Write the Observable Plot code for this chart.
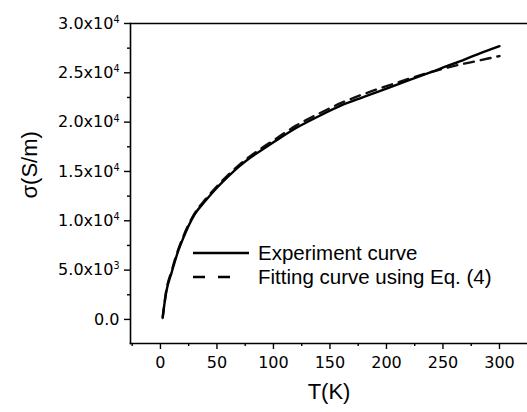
<!DOCTYPE html>
<html><head><meta charset="utf-8">
<script src="https://cdn.jsdelivr.net/npm/d3@7"></script>
<script src="https://cdn.jsdelivr.net/npm/@observablehq/plot@0.6"></script>
<style>
body{margin:0;background:#fff;}
#wrap{position:relative;width:527px;height:412px;font-family:"Liberation Sans",Arial,sans-serif;}
#legend{position:absolute;left:0;top:0;pointer-events:none;}
</style></head><body><div id="wrap"></div>
<script>
// Experimental curve
const tExp = [2, 5, 10, 15, 20, 30, 40, 50, 60, 70, 80, 90, 100, 120, 140, 160, 180, 200, 220, 240, 260, 280, 300];
const sigmaExp = [250, 2700, 4800, 6700, 8200, 10600, 12050, 13350, 14500, 15550, 16450, 17200, 17950, 19400, 20600, 21700, 22550, 23400, 24250, 25100, 25950, 26850, 27700];
// Fitting curve using Eq. (4)
const tFit = [2, 5, 10, 15, 20, 30, 40, 50, 60, 70, 80, 90, 100, 120, 140, 160, 180, 200, 220, 240, 260, 280, 300];
const sigmaFit = [150, 2800, 4950, 6850, 8350, 10700, 12200, 13500, 14650, 15700, 16600, 17400, 18150, 19650, 20850, 21950, 22850, 23650, 24400, 25100, 25700, 26200, 26700];

const xTicks = [0, 50, 100, 150, 200, 250, 300];
const xMinorTicks = [-25, 25, 75, 125, 175, 225, 275, 325];
const yTicks = [0, 5000, 10000, 15000, 20000, 25000, 30000];
const yTickLabels = ["0.0", "5.0x10^3", "1.0x10^4", "1.5x10^4", "2.0x10^4", "2.5x10^4", "3.0x10^4"];
const yMinorTicks = [2500, 7500, 12500, 17500, 22500, 27500];
const seriesLabels = ["Experiment curve", "Fitting curve using Eq. (4)"];
const xLabel = "T(K)";
const yLabel = "σ(S/m)";

const exp = tExp.map((t, i) => ({t, s: sigmaExp[i]}));
const fit = tFit.map((t, i) => ({t, s: sigmaFit[i]}));

const font = "Liberation Sans, Arial, Helvetica, sans-serif";
const tickFont = "DejaVu Sans, Liberation Sans, sans-serif";

const chart = Plot.plot({
  width: 527, height: 412,
  marginLeft: 130, marginRight: 0, marginTop: 23, marginBottom: 69,
  x: {domain: [-26.5, 324.8]},
  y: {domain: [-2440, 30000]},
  style: {fontFamily: font, fontSize: "16px", color: "#000", background: "#fff"},
  marks: [
    Plot.frame({anchor: "left", stroke: "#000", strokeWidth: 1.6}),
    Plot.frame({anchor: "top", stroke: "#000", strokeWidth: 1.6}),
    Plot.frame({anchor: "bottom", stroke: "#000", strokeWidth: 1.6}),
    Plot.line(fit, {x: "t", y: "s", stroke: "#111", strokeWidth: 2.4, strokeDasharray: "10,7", curve: "monotone-x"}),
    Plot.line(exp, {x: "t", y: "s", stroke: "#000", strokeWidth: 2.4, curve: "monotone-x"}),
    Plot.axisX({ticks: xTicks, tickSize: 6, tickPadding: 7, label: null, tickFormat: d => String(d), fontSize: 16, fontFamily: tickFont, strokeWidth: 1.4}),
    Plot.axisX({ticks: xMinorTicks, tickSize: 3, label: null, tickFormat: () => "", strokeWidth: 1.4}),
    Plot.axisY({ticks: yTicks, tickSize: 6, tickPadding: 5, label: null, tickFormat: d => yTickLabels[yTicks.indexOf(d)], fontSize: 16, fontFamily: tickFont, strokeWidth: 1.4}),
    Plot.axisY({ticks: yMinorTicks, tickSize: 3, label: null, tickFormat: () => "", strokeWidth: 1.4}),
    Plot.text([xLabel], {frameAnchor: "bottom", dy: 55, fontSize: 22, fill: "#000"}),
    Plot.text([yLabel], {frameAnchor: "left", dx: -101, dy: 15, rotate: -90, fontSize: 22, fill: "#000"})
  ]
});

// superscripts in y tick labels
d3.select(chart).selectAll("g[aria-label='y-axis tick label'] text").each(function() {
  const s = this.textContent;
  if (s.includes("^")) {
    const [base, sup] = s.split("^");
    const sel = d3.select(this);
    sel.text(null);
    sel.append("tspan").text(base);
    sel.append("tspan").attr("dy", "-0.6em").attr("font-size", "0.6em").text(sup);
  }
});

const wrap = document.getElementById("wrap");
wrap.appendChild(chart);

// legend overlay
const lg = d3.select(wrap).append("svg").attr("id", "legend").attr("width", 527).attr("height", 412);
const rows = [{y: 253, x2: 249, dash: null}, {y: 277, x2: 230, dash: "12,13"}];
rows.forEach((r, i) => {
  lg.append("line").attr("x1", 193).attr("x2", r.x2).attr("y1", r.y).attr("y2", r.y)
    .attr("stroke", "#000").attr("stroke-width", 2.4).attr("stroke-dasharray", r.dash);
  lg.append("text").attr("x", 258).attr("y", r.y).attr("dy", "0.36em")
    .attr("font-family", font).attr("font-size", 20.5).attr("fill", "#000").text(seriesLabels[i]);
});
</script></body></html>
